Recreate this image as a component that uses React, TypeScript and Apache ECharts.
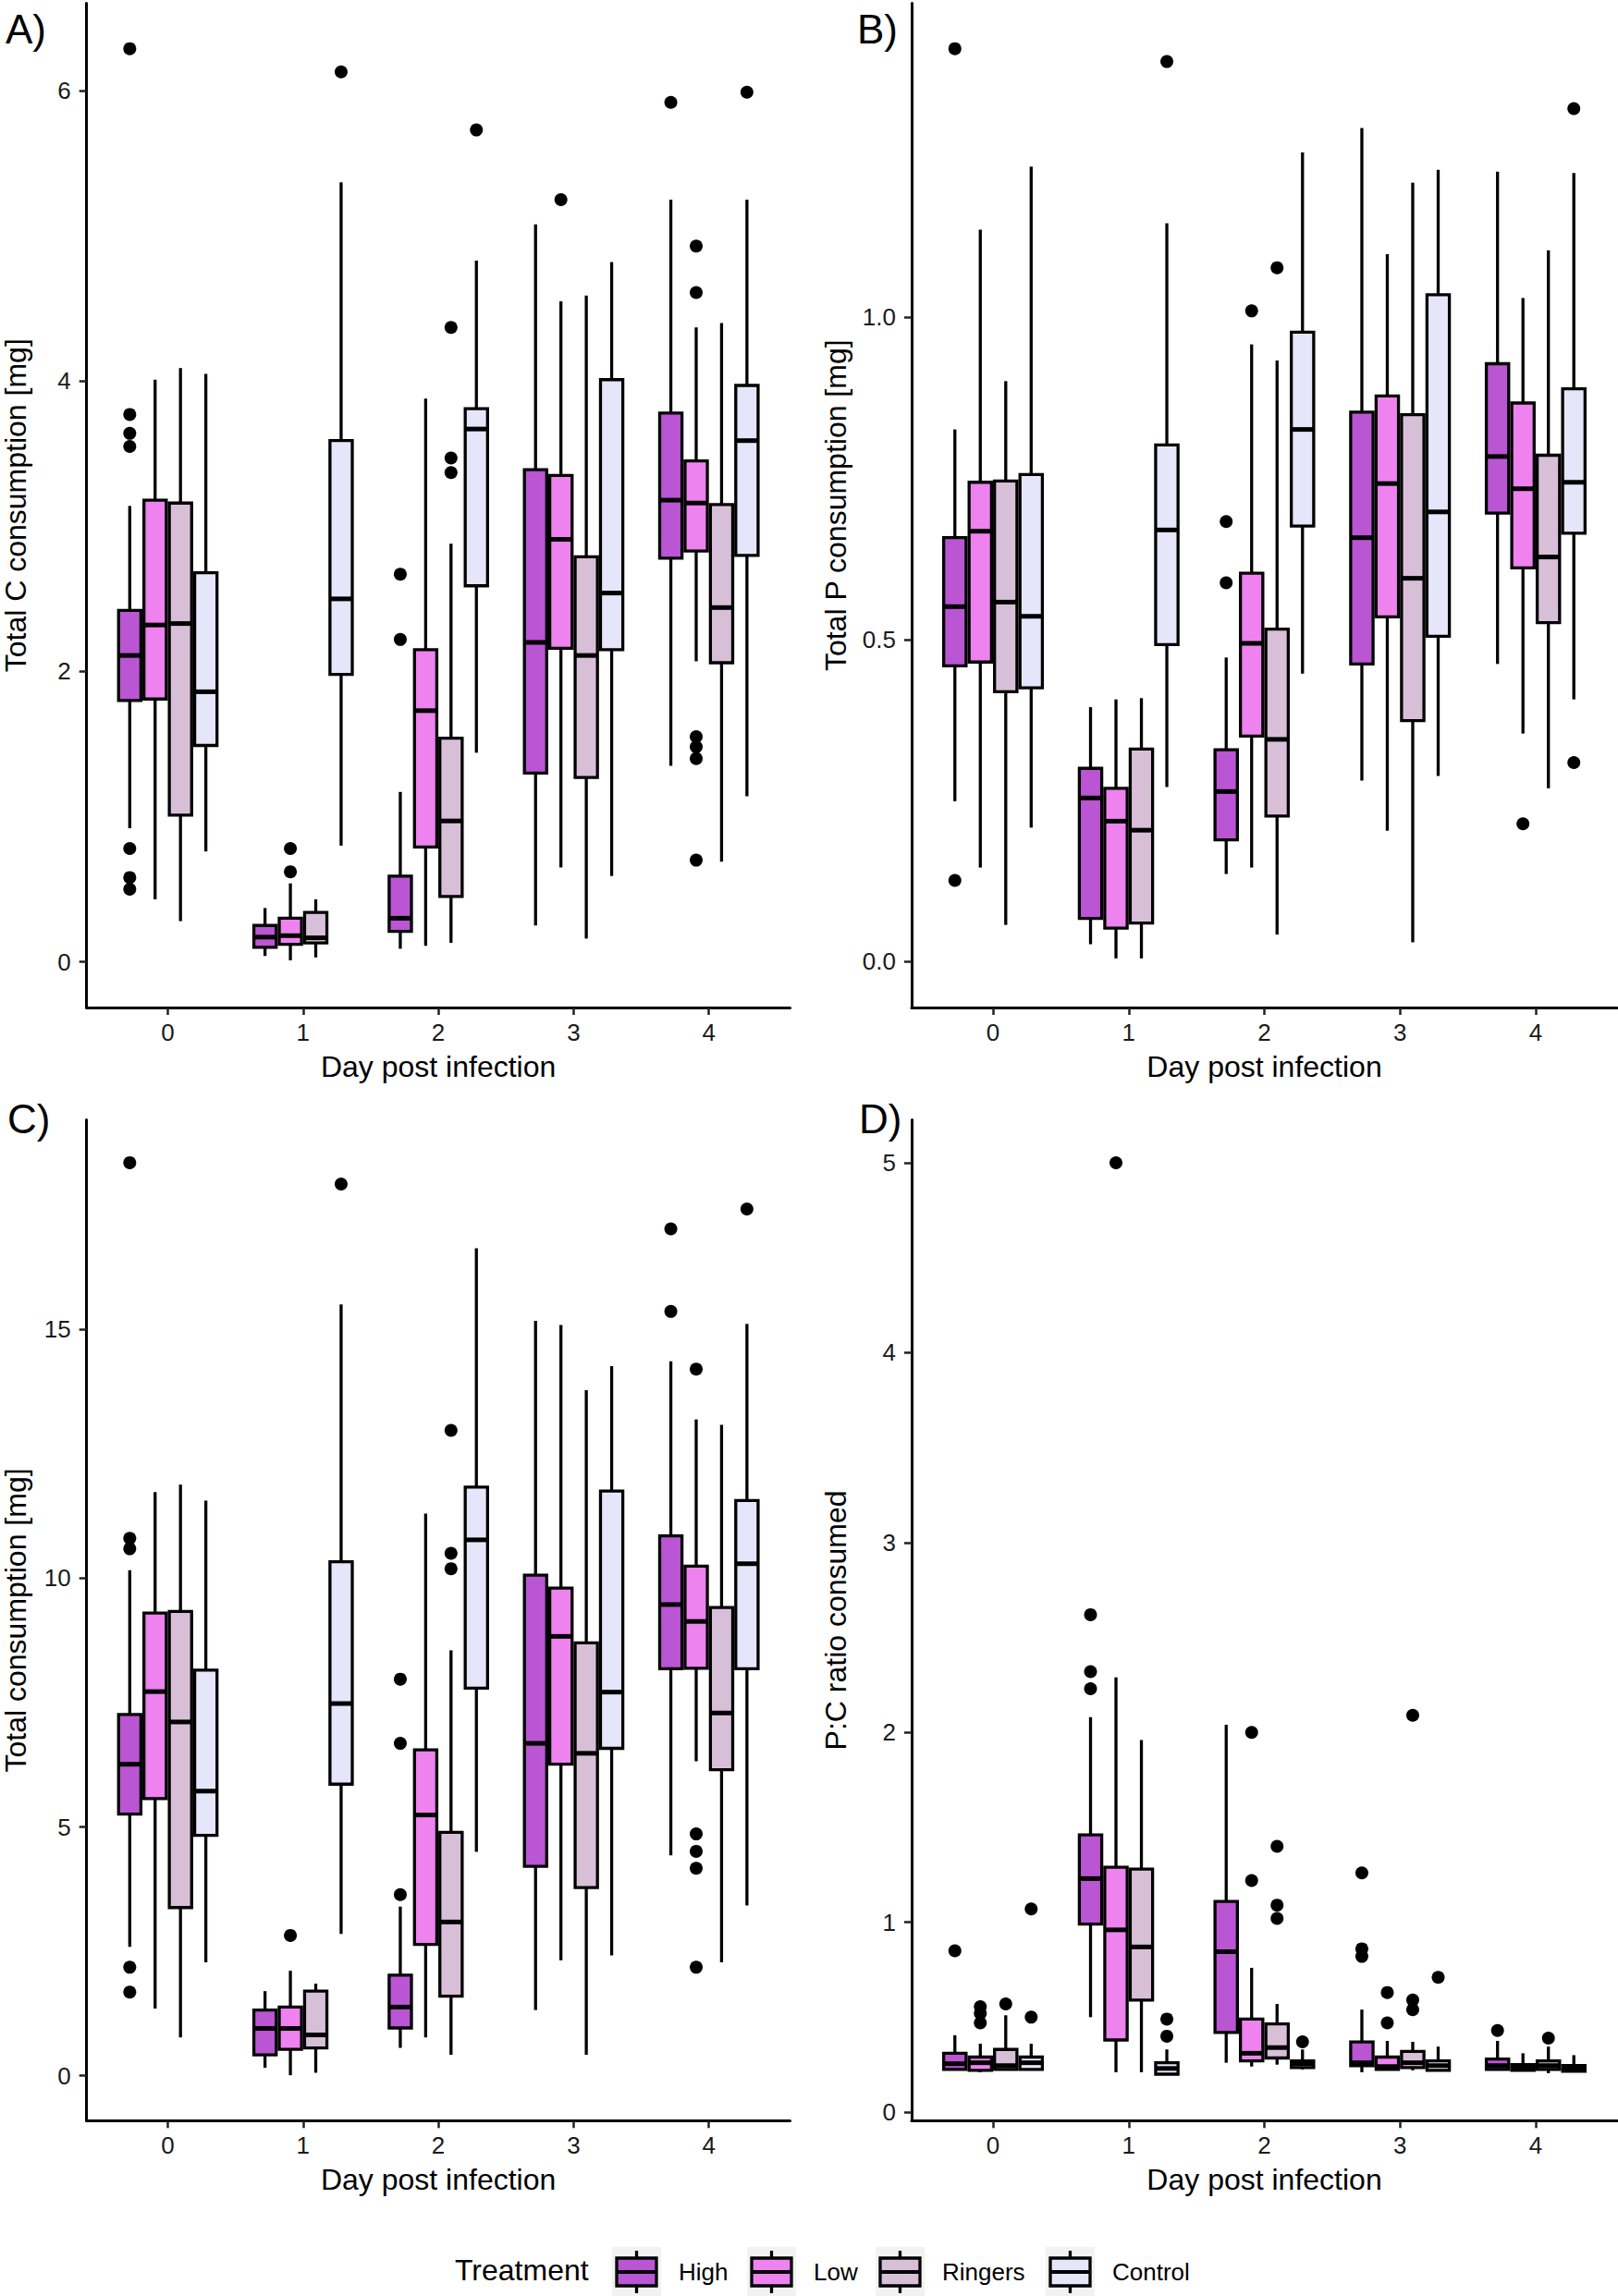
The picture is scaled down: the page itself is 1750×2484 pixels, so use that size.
import React, { useEffect, useRef } from "react";
import * as echarts from "echarts";

const FONT = "'Liberation Sans', Arial, Helvetica, sans-serif";

const dayLabels = ["0", "1", "2", "3", "4"];
const treatments = ["High", "Low", "Ringers", "Control"];
const colors = ["#BA55D3", "#EE82EE", "#D8BFD8", "#E6E6FA"];
const xTitle = "Day post infection";
const legendTitle = "Treatment";

// Each box: [lower whisker, Q1, median, Q3, upper whisker], one per day 0..4
// ---------- Panel A: Total C consumption ----------
const A_High = [[0.92, 1.8, 2.11, 2.42, 3.14], [0.04, 0.1, 0.17, 0.25, 0.37], [0.09, 0.21, 0.3, 0.59, 1.17], [0.25, 1.3, 2.2, 3.39, 5.08], [1.35, 2.78, 3.18, 3.78, 5.25]];
const A_Low = [[0.43, 1.81, 2.32, 3.18, 4.01], [0.01, 0.12, 0.18, 0.3, 0.54], [0.11, 0.79, 1.73, 2.15, 3.88], [0.65, 2.16, 2.91, 3.35, 4.55], [2.07, 2.83, 3.16, 3.45, 4.37]];
const A_Ringers = [[0.28, 1.01, 2.33, 3.16, 4.09], [0.03, 0.13, 0.165, 0.34, 0.43], [0.13, 0.45, 0.97, 1.54, 2.88], [0.16, 1.27, 2.11, 2.79, 4.59], [0.69, 2.06, 2.44, 3.15, 4.4]];
const A_Control = [[0.76, 1.49, 1.86, 2.68, 4.05], [0.8, 1.98, 2.5, 3.59, 5.37], [1.44, 2.59, 3.67, 3.81, 4.83], [0.59, 2.15, 2.54, 4.01, 4.82], [1.14, 2.8, 3.59, 3.97, 5.25]];
// outliers: [day, value]
const A_High_out = [[0, 6.29], [0, 3.77], [0, 3.64], [0, 3.55], [0, 0.78], [0, 0.58], [0, 0.5], [2, 2.67], [2, 2.22], [4, 5.92]];
const A_Low_out = [[1, 0.78], [1, 0.62], [3, 5.25], [4, 4.93], [4, 4.61], [4, 1.55], [4, 1.48], [4, 1.4], [4, 0.7]];
const A_Ringers_out = [[2, 4.37], [2, 3.47], [2, 3.37]];
const A_Control_out = [[1, 6.13], [2, 5.73], [4, 5.99]];

// ---------- Panel B: Total P consumption ----------
const B_High = [[0.249, 0.459, 0.551, 0.658, 0.826], [0.027, 0.067, 0.254, 0.3, 0.395], [0.136, 0.189, 0.264, 0.329, 0.472], [0.281, 0.462, 0.658, 0.853, 1.294], [0.462, 0.696, 0.784, 0.928, 1.226]];
const B_Low = [[0.146, 0.465, 0.668, 0.744, 1.136], [0.005, 0.052, 0.218, 0.269, 0.407], [0.146, 0.35, 0.494, 0.603, 0.958], [0.203, 0.535, 0.742, 0.878, 1.098], [0.354, 0.611, 0.734, 0.867, 1.03]];
const B_Ringers = [[0.057, 0.419, 0.558, 0.746, 0.901], [0.005, 0.06, 0.204, 0.33, 0.409], [0.042, 0.226, 0.345, 0.516, 0.933], [0.03, 0.374, 0.595, 0.849, 1.209], [0.269, 0.526, 0.628, 0.786, 1.104]];
const B_Control = [[0.208, 0.425, 0.536, 0.756, 1.234], [0.271, 0.492, 0.67, 0.802, 1.146], [0.447, 0.676, 0.826, 0.977, 1.256], [0.288, 0.505, 0.698, 1.035, 1.229], [0.407, 0.665, 0.744, 0.889, 1.224]];
const B_High_out = [[0, 1.417], [0, 0.126], [2, 0.683], [2, 0.588]];
const B_Low_out = [[2, 1.01], [4, 0.214]];
const B_Ringers_out = [[2, 1.077]];
const B_Control_out = [[1, 1.397], [4, 1.324], [4, 0.309]];

// ---------- Panel C: Total consumption ----------
const C_High = [[2.59, 5.26, 6.26, 7.26, 10.16], [0.16, 0.42, 0.95, 1.32, 1.7], [0.56, 0.96, 1.38, 2.02, 3.4], [1.32, 4.21, 6.68, 10.06, 15.17], [4.43, 8.18, 9.47, 10.85, 14.36]];
const C_Low = [[1.35, 5.57, 7.72, 9.3, 11.73], [0.01, 0.53, 0.95, 1.38, 2.11], [0.77, 2.64, 5.24, 6.55, 11.3], [2.32, 6.26, 8.83, 9.8, 15.09], [6.32, 8.19, 9.13, 10.24, 13.19]];
const C_Ringers = [[0.77, 3.38, 7.11, 9.33, 11.88], [0.06, 0.56, 0.82, 1.7, 1.85], [0.42, 1.6, 3.09, 4.89, 8.55], [0.42, 3.78, 6.48, 8.7, 13.78], [2.28, 6.15, 7.29, 9.41, 13.08]];
const C_Control = [[2.28, 4.83, 5.72, 8.15, 11.56], [2.85, 5.86, 7.48, 10.33, 15.5], [4.5, 7.79, 10.77, 11.83, 16.63], [2.42, 6.58, 7.71, 11.75, 14.26], [3.42, 8.18, 10.29, 11.56, 15.11]];
const C_High_out = [[0, 18.35], [0, 10.8], [0, 10.59], [0, 2.18], [0, 1.68], [2, 7.97], [2, 6.68], [2, 3.64], [4, 17.02], [4, 15.36]];
const C_Low_out = [[1, 2.82], [4, 14.2], [4, 4.86], [4, 4.51], [4, 4.17], [4, 2.18]];
const C_Ringers_out = [[2, 12.97], [2, 10.5], [2, 10.19]];
const C_Control_out = [[1, 17.92], [4, 17.42]];

// ---------- Panel D: P:C ratio consumed ----------
const D_High = [[0.22, 0.225, 0.255, 0.31, 0.405], [0.5, 0.99, 1.23, 1.46, 2.08], [0.26, 0.42, 0.845, 1.11, 2.04], [0.21, 0.245, 0.26, 0.37, 0.54], [0.225, 0.225, 0.245, 0.28, 0.375]];
const D_Low = [[0.21, 0.22, 0.26, 0.29, 0.36], [0.21, 0.38, 0.96, 1.29, 2.29], [0.24, 0.27, 0.31, 0.49, 0.76], [0.22, 0.225, 0.24, 0.29, 0.375], [0.22, 0.22, 0.235, 0.25, 0.31]];
const D_Ringers = [[0.22, 0.225, 0.245, 0.33, 0.51], [0.21, 0.59, 0.87, 1.28, 1.96], [0.25, 0.285, 0.34, 0.465, 0.57], [0.22, 0.235, 0.26, 0.32, 0.37], [0.205, 0.225, 0.245, 0.27, 0.345]];
const D_Control = [[0.22, 0.225, 0.26, 0.29, 0.36], [0.2, 0.2, 0.23, 0.26, 0.33], [0.225, 0.235, 0.255, 0.27, 0.33], [0.22, 0.22, 0.245, 0.27, 0.345], [0.21, 0.215, 0.23, 0.245, 0.3]];
const D_High_out = [[0, 0.85], [1, 2.62], [1, 2.32], [1, 2.23], [3, 1.26], [3, 0.86], [3, 0.82], [4, 0.43]];
const D_Low_out = [[0, 0.555], [0, 0.52], [0, 0.47], [1, 5.0], [2, 2.0], [2, 1.22], [3, 0.63], [3, 0.47]];
const D_Ringers_out = [[0, 0.57], [2, 1.4], [2, 1.09], [2, 1.02], [3, 2.09], [3, 0.59], [3, 0.54], [4, 0.39]];
const D_Control_out = [[0, 1.07], [0, 0.5], [1, 0.49], [1, 0.4], [2, 0.37], [3, 0.71]];

const A_ticks = [0, 2, 4, 6];
const B_ticks = [0, 0.5, 1.0];
const C_ticks = [0, 5, 10, 15];
const D_ticks = [0, 1, 2, 3, 4, 5];

const panels = [
  { label: "A)", yTitle: "Total C consumption [mg]", ticks: A_ticks, dec: 0, yMin: -0.315, yMax: 6.603,
    boxes: [A_High, A_Low, A_Ringers, A_Control], outs: [A_High_out, A_Low_out, A_Ringers_out, A_Control_out],
    grid: { left: 93.7, top: 3.5, width: 760.8, height: 1086.5 }, nameGap: 61, labelPos: [6, 31] },
  { label: "B)", yTitle: "Total P consumption [mg]", ticks: B_ticks, dec: 1, yMin: -0.0712, yMax: 1.4875,
    boxes: [B_High, B_Low, B_Ringers, B_Control], outs: [B_High_out, B_Low_out, B_Ringers_out, B_Control_out],
    grid: { left: 986, top: 3.5, width: 763, height: 1086.5 }, nameGap: 66, labelPos: [927, 31] },
  { label: "C)", yTitle: "Total consumption [mg]", ticks: C_ticks, dec: 0, yMin: -0.903, yMax: 19.21,
    boxes: [C_High, C_Low, C_Ringers, C_Control], outs: [C_High_out, C_Low_out, C_Ringers_out, C_Control_out],
    grid: { left: 93.7, top: 1211.6, width: 760.8, height: 1082.7 }, nameGap: 61, labelPos: [8, 1210] },
  { label: "D)", yTitle: "P:C ratio consumed", ticks: D_ticks, dec: 0, yMin: -0.045, yMax: 5.226,
    boxes: [D_High, D_Low, D_Ringers, D_Control], outs: [D_High_out, D_Low_out, D_Ringers_out, D_Control_out],
    grid: { left: 986, top: 1211.6, width: 763, height: 1082.7 }, nameGap: 66, labelPos: [929, 1210] },
];

const STEP = 0.1875; // dodge step (fraction of one day)
const BOX_W = 0.165; // box width (fraction of one day)
const LW = 3.3;

function boxSeries(gi: number, ti: number, boxes: number[][]) {
  const color = colors[ti];
  const off = (ti - 1.5) * STEP;
  return {
    type: "custom",
    name: treatments[ti],
    xAxisIndex: gi,
    yAxisIndex: gi,
    z: 2,
    silent: true,
    clip: false,
    data: boxes.map((b, d) => [d, ...b]),
    encode: { x: 0, y: [1, 2, 3, 4, 5] },
    renderItem: (params: any, api: any) => {
      const d = api.value(0) as number;
      const unit = api.size([1, 0])[0];
      const cx = api.coord([d + off, 0])[0];
      const yy = (k: number) => api.coord([d, api.value(k)])[1];
      const yMin = yy(1), yQ1 = yy(2), yMed = yy(3), yQ3 = yy(4), yMax = yy(5);
      const half = (unit * BOX_W) / 2;
      const lineStyle = { stroke: "#000", lineWidth: LW, lineCap: "butt" };
      return {
        type: "group",
        children: [
          { type: "line", shape: { x1: cx, y1: yMax, x2: cx, y2: yQ3 }, style: lineStyle },
          { type: "line", shape: { x1: cx, y1: yQ1, x2: cx, y2: yMin }, style: lineStyle },
          { type: "rect", shape: { x: cx - half, y: yQ3, width: half * 2, height: yQ1 - yQ3 }, style: { fill: color, stroke: "#000", lineWidth: LW } },
          { type: "line", shape: { x1: cx - half, y1: yMed, x2: cx + half, y2: yMed }, style: { stroke: "#000", lineWidth: 5 } },
        ],
      };
    },
  };
}

function outlierSeries(gi: number, ti: number, outs: number[][]) {
  const off = (ti - 1.5) * STEP;
  return {
    type: "scatter",
    name: treatments[ti] + " outliers",
    xAxisIndex: gi,
    yAxisIndex: gi,
    z: 3,
    silent: true,
    symbol: "circle",
    symbolSize: 14,
    itemStyle: { color: "#000", opacity: 1 },
    data: outs.map(([d, v]) => [d + off, v]),
  };
}

const legendBgLeft = [662, 808, 947, 1131];

function buildLegend() {
  const els: any[] = [];
  els.push({ type: "text", x: 492, y: 2456, style: { text: legendTitle, fontSize: 32, fontFamily: FONT, fill: "#000", align: "left", verticalAlign: "middle" } });
  treatments.forEach((t, i) => {
    const bx = legendBgLeft[i];
    const cx = bx + 26.5;
    els.push({ type: "rect", shape: { x: bx, y: 2431, width: 53, height: 53 }, style: { fill: "#F2F2F2" } });
    els.push({ type: "line", shape: { x1: cx, y1: 2435, x2: cx, y2: 2481 }, style: { stroke: "#000", lineWidth: LW } });
    els.push({ type: "rect", shape: { x: bx + 5, y: 2443, width: 43, height: 30 }, style: { fill: colors[i], stroke: "#000", lineWidth: LW } });
    els.push({ type: "line", shape: { x1: bx + 5, y1: 2458, x2: bx + 48, y2: 2458 }, style: { stroke: "#000", lineWidth: 4 } });
    els.push({ type: "text", x: bx + 72, y: 2458, style: { text: t, fontSize: 26, fontFamily: FONT, fill: "#000", align: "left", verticalAlign: "middle" } });
  });
  return els;
}

function buildOption() {
  const grid = panels.map((p) => ({ ...p.grid, containLabel: false, outerBoundsMode: "none" }));
  const xAxis = panels.map((p, i) => ({
    gridIndex: i,
    type: "value",
    min: -0.6,
    max: 4.6,
    axisLine: { show: true, onZero: false, lineStyle: { color: "#000", width: 3 } },
    axisTick: { show: true, customValues: [0, 1, 2, 3, 4], length: 8, lineStyle: { color: "#222", width: 2.5 } },
    axisLabel: { show: true, customValues: [0, 1, 2, 3, 4], formatter: (v: number) => dayLabels[Math.round(v)], margin: 14, fontSize: 26, color: "#1a1a1a", fontFamily: FONT },
    splitLine: { show: false },
    name: xTitle,
    nameLocation: "middle",
    nameGap: 48,
    nameTextStyle: { fontSize: 32, color: "#000", fontFamily: FONT },
  }));
  const yAxis = panels.map((p, i) => ({
    gridIndex: i,
    type: "value",
    min: p.yMin,
    max: p.yMax,
    axisLine: { show: true, onZero: false, lineStyle: { color: "#000", width: 3 } },
    axisTick: { show: true, customValues: p.ticks, length: 8, lineStyle: { color: "#222", width: 2.5 } },
    axisLabel: { show: true, customValues: p.ticks, formatter: (v: number) => v.toFixed(p.dec), margin: 17, fontSize: 26, color: "#1a1a1a", fontFamily: FONT },
    splitLine: { show: false },
    name: p.yTitle,
    nameLocation: "middle",
    nameGap: p.nameGap,
    nameTextStyle: { fontSize: 32, color: "#000", fontFamily: FONT },
  }));
  const series: any[] = [];
  panels.forEach((p, gi) => {
    p.boxes.forEach((b, ti) => series.push(boxSeries(gi, ti, b)));
    p.outs.forEach((o, ti) => series.push(outlierSeries(gi, ti, o)));
  });
  const graphic: any[] = panels.map((p) => ({
    type: "text",
    x: p.labelPos[0],
    y: p.labelPos[1],
    style: { text: p.label, fontSize: 44, fontFamily: FONT, fill: "#000", align: "left", verticalAlign: "middle" },
  }));
  graphic.push(...buildLegend());
  return {
    animation: false,
    backgroundColor: "#ffffff",
    textStyle: { fontFamily: FONT },
    grid,
    xAxis,
    yAxis,
    series,
    graphic,
  };
}

export default function App() {
  const ref = useRef<HTMLDivElement>(null);
  useEffect(() => {
    if (!ref.current) return;
    const chart = echarts.init(ref.current, undefined, { renderer: "svg" });
    chart.setOption(buildOption() as any);
    return () => chart.dispose();
  }, []);
  return <div ref={ref} style={{ position: "absolute", left: 0, top: 0, width: 1750, height: 2484, background: "#fff" }} />;
}
